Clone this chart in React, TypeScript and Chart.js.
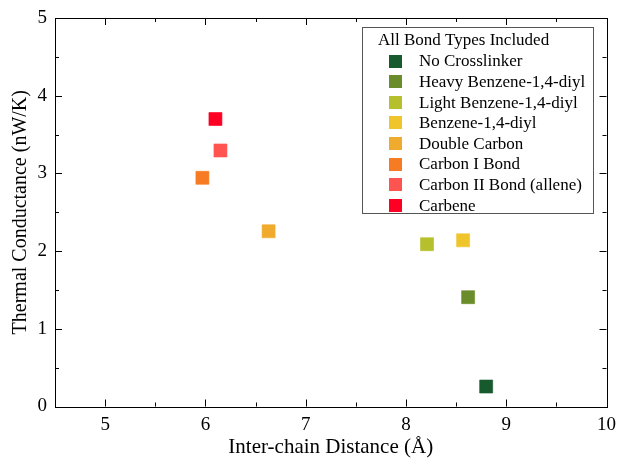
import React, { useEffect, useRef } from "react";
import { Chart, registerables } from "chart.js";
Chart.register(...registerables);

const seriesNames = [
  "No Crosslinker",
  "Heavy Benzene-1,4-diyl",
  "Light Benzene-1,4-diyl",
  "Benzene-1,4-diyl",
  "Double Carbon",
  "Carbon I Bond",
  "Carbon II Bond (allene)",
  "Carbene",
];
const distances = [8.8, 8.62, 8.21, 8.57, 6.63, 5.97, 6.15, 6.1];
const conductances = [0.257, 1.407, 2.089, 2.139, 2.255, 2.943, 3.295, 3.7];
const colors = ["#175a2d", "#6a8c2a", "#b5c02c", "#f0c52b", "#f0ab2e", "#f67b22", "#ff5450", "#ff0025"];
const xTicks = [5, 6, 7, 8, 9, 10];
const yTicks = [0, 1, 2, 3, 4, 5];
const legendTitle = "All Bond Types Included";
const xTitle = "Inter-chain Distance (Å)";
const yTitle = "Thermal Conductance (nW/K)";

const FONT = "'Liberation Serif', 'Times New Roman', serif";

const framePlugin = {
  id: "frame",
  afterDraw(chart: any) {
    const { ctx, chartArea: a, scales } = chart;
    const xs = scales.x, ys = scales.y;
    ctx.save();
    ctx.strokeStyle = "#000";
    ctx.lineWidth = 1;
    ctx.strokeRect(Math.round(a.left) + 0.5, Math.round(a.top) + 0.5, Math.round(a.right - a.left), Math.round(a.bottom - a.top));
    ctx.beginPath();
    for (let v = 4.5; v <= 10.001; v += 0.5) {
      const major = Math.abs(v - Math.round(v)) < 1e-6;
      const len = major ? 7 : 4;
      const px = Math.round(xs.getPixelForValue(v)) + 0.5;
      ctx.moveTo(px, a.bottom); ctx.lineTo(px, a.bottom - len);
      ctx.moveTo(px, a.top); ctx.lineTo(px, a.top + len);
    }
    for (let v = 0; v <= 5.001; v += 0.5) {
      const major = Math.abs(v - Math.round(v)) < 1e-6;
      const len = major ? 7 : 4;
      const py = Math.round(ys.getPixelForValue(v)) + 0.5;
      ctx.moveTo(a.left, py); ctx.lineTo(a.left + len, py);
      ctx.moveTo(a.right, py); ctx.lineTo(a.right - len, py);
    }
    ctx.stroke();

    // legend
    const L = 362, T = 27, R = 593, B = 213;
    ctx.fillStyle = "#fff";
    ctx.fillRect(L, T, R - L, B - T);
    ctx.strokeStyle = "#555";
    ctx.strokeRect(L + 0.5, T + 0.5, R - L, B - T);
    ctx.fillStyle = "#000";
    ctx.font = `17px ${FONT}`;
    ctx.textBaseline = "middle";
    ctx.textAlign = "left";
    ctx.fillText(legendTitle, 378, 41);
    chart.data.datasets.forEach((ds: any, i: number) => {
      const cy = 61 + i * 20.6;
      ctx.fillStyle = ds.backgroundColor;
      ctx.fillRect(389, Math.round(cy - 6.5), 13, 13);
      ctx.fillStyle = "#000";
      ctx.fillText(ds.label, 419, cy + 1);
    });
    ctx.restore();
  },
};

export default function App() {
  const ref = useRef<HTMLCanvasElement>(null);
  useEffect(() => {
    document.body.style.margin = "0";
    const chart = new Chart(ref.current!, {
      type: "scatter",
      data: {
        datasets: seriesNames.map((name, i) => ({
          label: name,
          data: [{ x: distances[i], y: conductances[i] }],
          backgroundColor: colors[i],
          borderColor: colors[i] + "99",
          borderWidth: 1,
          pointStyle: "rect",
          pointRadius: 9.2,
        })),
      },
      options: {
        animation: false,
        responsive: false,
        layout: { padding: { top: 18, right: 11.5, left: 0, bottom: 0 } },
        plugins: { legend: { display: false }, tooltip: { enabled: false } },
        scales: {
          x: {
            type: "linear",
            min: 4.5,
            max: 10,
            afterBuildTicks: (s: any) => { s.ticks = xTicks.map((v) => ({ value: v })); },
            afterFit: (s: any) => { s.height = 57.5; s.paddingLeft = 0; s.paddingRight = 0; },
            grid: { display: false, drawTicks: false },
            border: { display: false },
            ticks: { color: "#000", font: { family: FONT, size: 19 }, padding: 7 },
            title: { display: true, text: xTitle, color: "#000", font: { family: FONT, size: 21 }, padding: { top: 0 } },
          },
          y: {
            type: "linear",
            min: 0,
            max: 5,
            afterBuildTicks: (s: any) => { s.ticks = yTicks.map((v) => ({ value: v })); },
            afterFit: (s: any) => { s.width = 55; s.paddingTop = 0; s.paddingBottom = 0; },
            grid: { display: false, drawTicks: false },
            border: { display: false },
            ticks: { color: "#000", font: { family: FONT, size: 19 }, padding: 8 },
            title: { display: true, text: yTitle, color: "#000", font: { family: FONT, size: 20 }, padding: { top: 9, bottom: 0 } },
          },
        },
      },
      plugins: [framePlugin],
    } as any);
    return () => chart.destroy();
  }, []);
  return (
    <div style={{ width: 618, height: 464 }}>
      <canvas ref={ref} width={618} height={464} style={{ display: "block" }} />
    </div>
  );
}
